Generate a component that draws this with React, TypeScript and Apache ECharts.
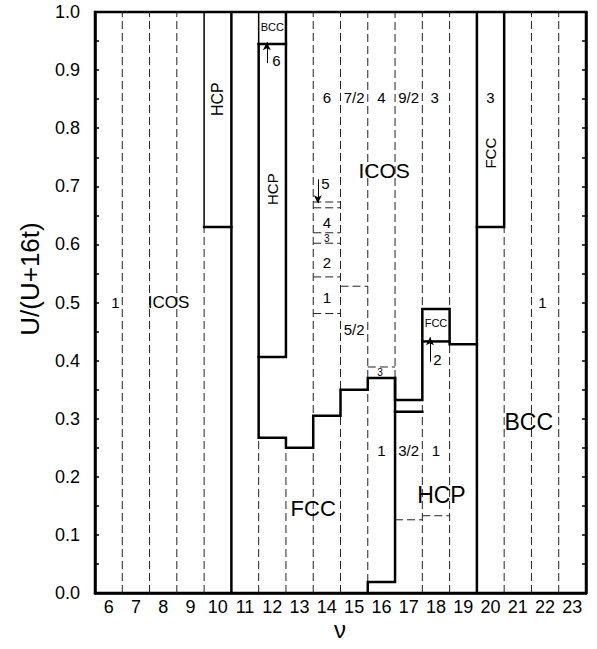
import React, { useEffect, useRef } from "react";
import * as echarts from "echarts";

const FONT = "'Liberation Sans', Arial, sans-serif";

// x tick labels (integers ν = 6 … 23)
const xTickLabels = ["6","7","8","9","10","11","12","13","14","15","16","17","18","19","20","21","22","23"];

// dashed vertical segments: [x, yStart, yEnd]
const dashedVertical: [number, number, number][] = [
  [6.5, 0, 1], [7.5, 0, 1], [8.5, 0, 1], [9.5, 0, 0.63],
  [11.5, 0, 0.267], [12.5, 0, 0.25], [13.5, 0, 1], [14.5, 0, 1],
  [15.5, 0.019, 1], [16.5, 0.37, 1], [17.5, 0, 1], [18.5, 0, 1],
  [20.5, 0, 0.63], [21.5, 0, 1], [22.5, 0, 1],
];

// dashed horizontal segments: [y, xStart, xEnd]
const dashedHorizontal: [number, number, number][] = [
  [0.673, 13.5, 14.5], [0.663, 13.5, 14.5], [0.62, 13.5, 14.5], [0.602, 13.5, 14.5],
  [0.544, 13.5, 14.5], [0.481, 13.5, 14.5], [0.528, 14.5, 15.5], [0.389, 15.5, 16.5],
  [0.126, 16.5, 17.5], [0.133, 17.5, 18.5],
];

// thick phase boundaries
const boundaryFccIcos: [number, number][] = [
  [11.5, 0.945], [11.5, 0.267], [12.5, 0.267], [12.5, 0.25], [13.5, 0.25], [13.5, 0.305],
  [14.5, 0.305], [14.5, 0.35], [15.5, 0.35], [15.5, 0.37], [16.5, 0.37], [16.5, 0.332],
  [17.5, 0.332], [17.5, 0.489], [18.5, 0.489], [18.5, 0.428], [19.5, 0.428],
];
const hcpColumn: [number, number][] = [[11.5, 0.406], [12.5, 0.406], [12.5, 1.0]];
const bccBoxBottom: [number, number][] = [[11.5, 0.945], [12.5, 0.945]];
const fccBoxBottom: [number, number][] = [[17.5, 0.433], [18.5, 0.433]];
const hcpLower: [number, number][] = [[15.5, 0], [15.5, 0.019], [16.5, 0.019], [16.5, 0.37]];
const hcpTop: [number, number][] = [[16.5, 0.312], [17.5, 0.312]];
const hcpLeftBox: [number, number][] = [[9.5, 0.63], [10.5, 0.63]];
const fccRightBox: [number, number][] = [[19.5, 0.63], [20.5, 0.63], [20.5, 1.0]];
const wall105: [number, number][] = [[10.5, 0], [10.5, 1]];
const wall195: [number, number][] = [[19.5, 0], [19.5, 1]];
const thickLines = [boundaryFccIcos, hcpColumn, bccBoxBottom, fccBoxBottom, hcpLower, hcpTop, hcpLeftBox, fccRightBox, wall105, wall195];

// medium lines
const hcpLeftSide: [number, number][] = [[9.5, 0.63], [9.5, 1.0]];
const bccBoxLeft: [number, number][] = [[11.5, 0.945], [11.5, 1.0]];
const mediumLines = [hcpLeftSide, bccBoxLeft];

// arrows: [x, yFrom, yTo]
const arrows: [number, number, number][] = [
  [11.8, 0.912, 0.948],
  [13.67, 0.712, 0.671],
  [17.78, 0.398, 0.44],
];

// labels: [x, y, text, fontSize, rotate]
const labels: [number, number, string, number, number][] = [
  [6.25, 0.5, "1", 15, 0],
  [8.2, 0.5, "ICOS", 17, 0],
  [10.0, 0.85, "HCP", 16, 90],
  [12.0, 0.974, "BCC", 11, 0],
  [12.15, 0.917, "6", 15, 0],
  [12.0, 0.695, "HCP", 15, 90],
  [14.0, 0.852, "6", 15, 0],
  [15.0, 0.852, "7/2", 15, 0],
  [16.0, 0.852, "4", 15, 0],
  [17.0, 0.852, "9/2", 15, 0],
  [17.95, 0.852, "3", 15, 0],
  [20.0, 0.852, "3", 15, 0],
  [20.0, 0.757, "FCC", 15, 90],
  [16.1, 0.728, "ICOS", 21, 0],
  [13.95, 0.704, "5", 15, 0],
  [14.0, 0.637, "4", 15, 0],
  [14.0, 0.61, "3", 10, 0],
  [14.0, 0.568, "2", 15, 0],
  [14.0, 0.509, "1", 15, 0],
  [15.0, 0.453, "5/2", 15, 0],
  [15.95, 0.379, "3", 10, 0],
  [18.0, 0.465, "FCC", 11, 0],
  [18.05, 0.402, "2", 15, 0],
  [13.5, 0.146, "FCC", 22, 0],
  [16.0, 0.246, "1", 15, 0],
  [17.0, 0.246, "3/2", 15, 0],
  [18.0, 0.246, "1", 15, 0],
  [18.2, 0.169, "HCP", 23, 0],
  [21.9, 0.5, "1", 15, 0],
  [21.4, 0.295, "BCC", 23, 0],
];

export default function App() {
  const ref = useRef<HTMLDivElement>(null);
  useEffect(() => {
    document.body.style.margin = "0";
    if (!ref.current) return;
    const chart = echarts.init(ref.current, undefined, { renderer: "svg" });
    const series: any[] = [];
    const lineBase = { type: "line", xAxisIndex: 0, yAxisIndex: 0, showSymbol: false, symbol: "none", silent: true, z: 3 };
    dashedVertical.forEach(([x, y0, y1]) => {
      series.push({ ...lineBase, z: 2, data: [[x, y0], [x, y1]], lineStyle: { color: "#222", width: 1, type: [8, 4] } });
    });
    dashedHorizontal.forEach(([y, x0, x1]) => {
      series.push({ ...lineBase, z: 2, data: [[x0, y], [x1, y]], lineStyle: { color: "#222", width: 1, type: [8, 4] } });
    });
    thickLines.forEach((pts) => {
      series.push({ ...lineBase, data: pts, lineStyle: { color: "#000", width: 2.5, cap: "square", join: "miter" } });
    });
    mediumLines.forEach((pts) => {
      series.push({ ...lineBase, data: pts, lineStyle: { color: "#000", width: 1.5 } });
    });
    series.push({
      type: "line", xAxisIndex: 0, yAxisIndex: 0, data: [], silent: true,
      markLine: {
        silent: true, animation: false, symbol: ["none", "arrow"], symbolSize: [6, 8],
        label: { show: false },
        lineStyle: { color: "#000", width: 1, type: "solid" },
        itemStyle: { color: "#000" },
        data: arrows.map(([x, a, b]) => [{ coord: [x, a] }, { coord: [x, b] }]),
      },
    });
    series.push({
      type: "scatter", xAxisIndex: 0, yAxisIndex: 0, silent: true, symbolSize: 1,
      itemStyle: { color: "rgba(255,255,255,0)" }, z: 5,
      data: labels.map(([x, y, t, s, r]) => ({
        value: [x, y],
        label: { show: true, position: "inside", formatter: t, fontSize: s, rotate: r, color: "#000",
          opacity: 1, fontFamily: FONT, textBorderWidth: 0, textBorderColor: "transparent" },
      })),
    });
    const yCommon = {
      type: "value", min: 0, max: 1, interval: 0.05,
      splitLine: { show: false },
      axisLine: { show: true, lineStyle: { color: "#000", width: 2.5 } },
      axisTick: { show: true, inside: true, length: 4, lineStyle: { color: "#000", width: 1.5 } },
    };
    chart.setOption({
      animation: false,
      grid: { left: 95, right: 11, top: 12, bottom: 56, show: true, borderColor: "#000", borderWidth: 2.5, backgroundColor: "transparent" },
      xAxis: [
        { type: "value", min: 5.5, max: 23.5, axisLabel: { show: false }, axisTick: { show: false }, splitLine: { show: false },
          axisLine: { show: true, lineStyle: { color: "#000", width: 2.5 } } },
        { type: "category", data: xTickLabels, boundaryGap: true, position: "bottom",
          axisLine: { show: false }, axisTick: { show: false }, splitLine: { show: false },
          axisLabel: { fontSize: 18, color: "#000", fontFamily: FONT, margin: 5, interval: 0 } },
      ],
      yAxis: [
        { ...yCommon, position: "left",
          axisLabel: { fontSize: 18, color: "#000", fontFamily: FONT, margin: 15,
            formatter: (v: number) => (Math.round(v * 100) % 10 === 0 ? v.toFixed(1) : "") } },
        { ...yCommon, position: "right", axisLabel: { show: false } },
      ],
      graphic: [
        { type: "text", x: 30, y: 279, rotation: Math.PI / 2,
          style: { text: "U/(U+16t)", fontSize: 26, fontFamily: FONT, fill: "#000", align: "center", verticalAlign: "middle" } },
        { type: "text", x: 340, y: 629,
          style: { text: "ν", fontSize: 24, fontFamily: FONT, fill: "#000", align: "center", verticalAlign: "middle" } },
      ],
      series,
    });
    return () => chart.dispose();
  }, []);
  return <div ref={ref} style={{ width: 597, height: 649 }} />;
}
